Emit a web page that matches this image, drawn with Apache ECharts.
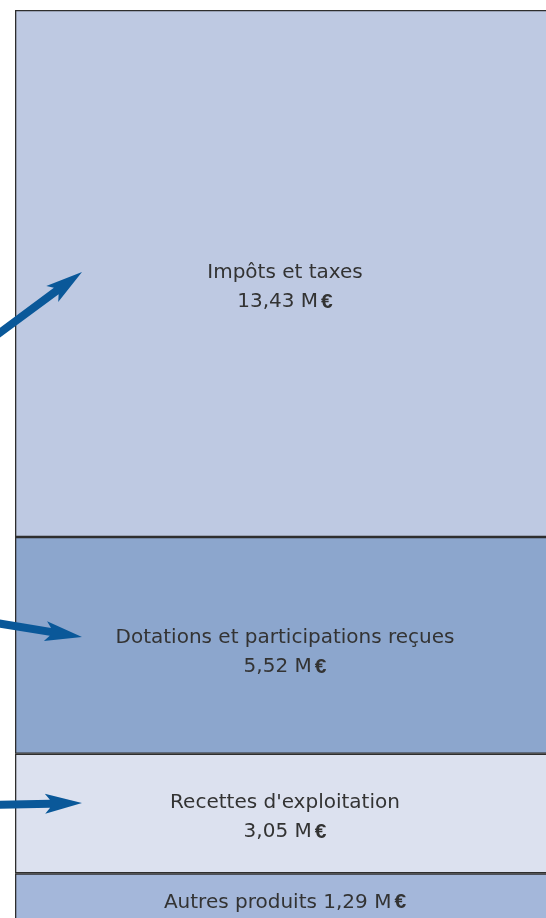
<!DOCTYPE html>
<html>
<head>
<meta charset="utf-8">
<script src="https://cdn.jsdelivr.net/npm/echarts@6/dist/echarts.min.js"></script>
<style>
  html, body { margin: 0; padding: 0; background: #fff; }
  #main { width: 546px; height: 918px; }
</style>
</head>
<body>
<div id="main"></div>
<script>
// stacking order: bottom to top
const names = ['Autres produits', "Recettes d'exploitation", 'Dotations et participations reçues', 'Impôts et taxes'];
const values = [1.29, 3.05, 5.52, 13.43];
const valueLabels = ['1,29', '3,05', '5,52', '13,43'];
const colors = ['#a4b7da', '#dce1ef', '#8ca6cd', '#bec9e2'];
const labelOffsets = [[0, 4], [0, 4], [0, 7], [0, 14]];

const total = values.reduce((a, b) => a + b, 0);
const myChart = echarts.init(document.getElementById('main'));

const txt = { fontFamily: 'DejaVu Sans', fontSize: 20, lineHeight: 29, color: '#333' };

const series = names.map((n, i) => ({
  name: n,
  type: 'bar',
  stack: 'total',
  barWidth: '100%',
  data: [values[i]],
  itemStyle: { color: colors[i], borderColor: '#2e2e2e', borderWidth: 1.3 },
  label: {
    show: true,
    position: 'inside',
    offset: labelOffsets[i],
    color: '#333',
    fontFamily: 'DejaVu Sans',
    fontSize: 20,
    lineHeight: 29,
    formatter: i === 0
      ? '{a|' + n + ' ' + valueLabels[i] + ' M}{b|€}'
      : '{a|' + n + '}\n{a|' + valueLabels[i] + ' M}{b|€}',
    rich: {
      a: txt,
      b: { fontFamily: 'Liberation Sans', fontWeight: 'bold', fontSize: 21, lineHeight: 29, color: '#333', padding: [0, 0, 0, 3] }
    }
  }
}));

// arrow: shaft from (x0,y0) to tip (x1,y1)
function arrow(x0, y0, x1, y1) {
  const dx = x1 - x0, dy = y1 - y0;
  const len = Math.sqrt(dx * dx + dy * dy);
  const ux = dx / len, uy = dy / len;
  const px = -uy, py = ux;
  const headLen = 37, headHalf = 10, shaftHalf = 4, notch = 5;
  const bx = x1 - ux * headLen, by = y1 - uy * headLen;
  const nx = bx + ux * notch, ny = by + uy * notch;
  const pts = [
    [x0 + px * shaftHalf, y0 + py * shaftHalf],
    [nx + px * shaftHalf, ny + py * shaftHalf],
    [bx + px * headHalf, by + py * headHalf],
    [x1, y1],
    [bx - px * headHalf, by - py * headHalf],
    [nx - px * shaftHalf, ny - py * shaftHalf],
    [x0 - px * shaftHalf, y0 - py * shaftHalf]
  ];
  return { type: 'polygon', shape: { points: pts }, style: { fill: '#0a5899' }, z: 100 };
}

const option = {
  animation: false,
  grid: { left: 15, top: 10, width: 540, height: 914, outerBoundsMode: 'none', containLabel: false },
  xAxis: {
    type: 'category',
    data: [''],
    show: false
  },
  yAxis: {
    type: 'value',
    min: 0,
    max: total,
    show: false
  },
  series: series,
  graphic: [
    arrow(-10, 340, 82, 272),
    arrow(-10, 622, 82, 637),
    arrow(-10, 805, 82, 803)
  ]
};

myChart.setOption(option);

window.addEventListener('resize', function () {
  myChart.resize();
});
</script>
</body>
</html>
